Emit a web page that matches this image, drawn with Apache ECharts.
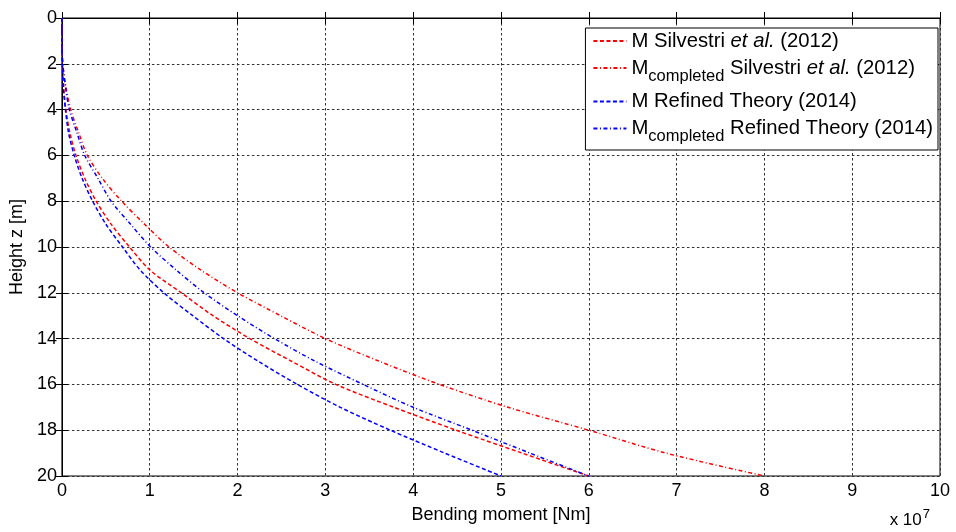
<!DOCTYPE html>
<html>
<head>
<meta charset="utf-8">
<script src="https://cdn.jsdelivr.net/npm/echarts@6/dist/echarts.min.js"></script>
<style>html,body{margin:0;padding:0;background:#fff}#c{width:956px;height:532px}</style>
</head>
<body>
<div id="c"></div>
<script>
// Height z [m]
var heights = [0,1,2,3,4,5,6,7,8,9,10,11,12,13,14,15,16,17,18,19,20];
// Bending moment, in units of 1e7 Nm
var mSilvestri        = [0,0,0.005,0.02,0.045,0.09,0.16,0.26,0.39,0.56,0.77,1.0,1.36,1.72,2.14,2.62,3.12,3.78,4.49,5.24,6.0];
var mCompSilvestri    = [0,0,0.01,0.045,0.10,0.19,0.29,0.46,0.68,0.94,1.22,1.58,2.0,2.49,3.0,3.62,4.3,5.08,6.0,6.88,8.0];
var mRefined          = [0,0,0.005,0.015,0.04,0.075,0.14,0.23,0.35,0.50,0.69,0.89,1.16,1.49,1.84,2.24,2.68,3.17,3.74,4.36,5.0];
var mCompRefined      = [0,0,0.01,0.04,0.085,0.17,0.26,0.41,0.56,0.78,1.01,1.3,1.62,2.0,2.42,2.89,3.43,4.0,4.67,5.33,6.0];
var xTicks = [0,1,2,3,4,5,6,7,8,9,10];
var yTicks = [0,2,4,6,8,10,12,14,16,18,20];
var seriesNames = [
  'M Silvestri et al. (2012)',
  'Mcompleted Silvestri et al. (2012)',
  'M Refined Theory (2014)',
  'Mcompleted Refined Theory (2014)'
];

function pairs(vals){ return heights.map(function(z,i){ return [vals[i], z]; }); }

var FONT = 'Liberation Sans, Arial, sans-serif';
var dash = [4,2.5];
var dashDot = [4,2.5,1,2.5];

var chart = echarts.init(document.getElementById('c'));
var axisLine = {show:true, lineStyle:{color:'#000', width:1}};
var split = {show:true, lineStyle:{color:'#333', width:1, type:[2.5,2.5]}};
var tick = {show:true, inside:true, length:6, lineStyle:{color:'#000'}};

chart.setOption({
  backgroundColor:'#fff',
  animation:false,
  grid:{left:61, right:16, top:18, bottom:56, show:true, borderColor:'#000', borderWidth:1, backgroundColor:'transparent'},
  legend:{
    show:true,
    orient:'vertical',
    right:18, top:28,
    itemWidth:33, itemHeight:10, itemGap:7,
    padding:[3,5,5,7],
    backgroundColor:'#fff',
    borderColor:'#000', borderWidth:1, borderRadius:0,
    itemStyle:{opacity:0},
    data: seriesNames,
    textStyle:{
      fontFamily:FONT, fontSize:20.3, color:'#000',
      rich:{
        n:{fontFamily:FONT, fontSize:20.3, color:'#000'},
        i:{fontFamily:FONT, fontSize:20.3, color:'#000', fontStyle:'italic'},
        s:{fontFamily:FONT, fontSize:16.5, color:'#000', verticalAlign:'bottom', padding:[16,0,0,0]}
      }
    },
    formatter:function(name){
      if(name===seriesNames[0]) return '{n|M Silvestri }{i|et al.}{n| (2012)}';
      if(name===seriesNames[1]) return '{n|M}{s|completed}{n| Silvestri }{i|et al.}{n| (2012)}';
      if(name===seriesNames[2]) return '{n|M Refined Theory (2014)}';
      return '{n|M}{s|completed}{n| Refined Theory (2014)}';
    }
  },
  xAxis:[{
    type:'value', min:0, max:10, interval:1, position:'bottom',
    name:'Bending moment [Nm]', nameLocation:'middle', nameGap:30,
    nameTextStyle:{fontFamily:FONT, fontSize:18, color:'#000'},
    axisLine:axisLine, axisTick:tick, splitLine:split,
    axisLabel:{fontFamily:FONT, fontSize:18, color:'#000', margin:6}
  },{
    type:'value', min:0, max:10, interval:1, position:'top',
    axisLine:axisLine, axisTick:tick, splitLine:{show:false}, axisLabel:{show:false}
  }],
  yAxis:[{
    type:'value', min:0, max:20, interval:2, inverse:true, position:'left',
    name:'Height z [m]', nameLocation:'middle', nameGap:34,
    nameTextStyle:{fontFamily:FONT, fontSize:18, color:'#000'},
    axisLine:axisLine, axisTick:tick, splitLine:split,
    axisLabel:{fontFamily:FONT, fontSize:18, color:'#000', margin:5}
  },{
    type:'value', min:0, max:20, interval:2, inverse:true, position:'right',
    axisLine:axisLine, axisTick:tick, splitLine:{show:false}, axisLabel:{show:false}
  }],
  series:[
    {name:seriesNames[0], type:'line', data:pairs(mSilvestri), symbol:'none', smooth:0.3,
     lineStyle:{color:'#ff0000', width:1.5, type:dash}, itemStyle:{color:'#ff0000'}, z:3},
    {name:seriesNames[1], type:'line', data:pairs(mCompSilvestri), symbol:'none', smooth:0.3,
     lineStyle:{color:'#ff0000', width:1.5, type:dashDot}, itemStyle:{color:'#ff0000'}, z:3},
    {name:seriesNames[2], type:'line', data:pairs(mRefined), symbol:'none', smooth:0.3,
     lineStyle:{color:'#0000ff', width:1.5, type:dash}, itemStyle:{color:'#0000ff'}, z:4},
    {name:seriesNames[3], type:'line', data:pairs(mCompRefined), symbol:'none', smooth:0.3,
     lineStyle:{color:'#0000ff', width:1.5, type:dashDot}, itemStyle:{color:'#0000ff'}, z:4}
  ],
  graphic:[{
    type:'text', right:26, bottom:3,
    style:{
      text:'{a|x 10}{b|7}',
      rich:{
        a:{fontFamily:FONT, fontSize:17, color:'#000'},
        b:{fontFamily:FONT, fontSize:13, color:'#000', verticalAlign:'top', padding:[0,0,12,1]}
      }
    }
  }]
});
</script>
</body>
</html>
